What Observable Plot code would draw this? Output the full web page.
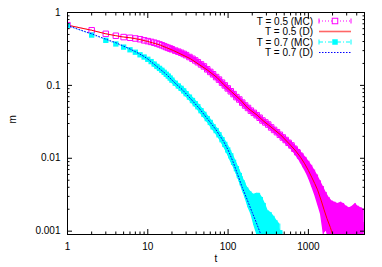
<!DOCTYPE html>
<html><head><meta charset="utf-8">
<script src="https://cdn.jsdelivr.net/npm/d3@7"></script>
<script src="https://cdn.jsdelivr.net/npm/@observablehq/plot@0.6"></script>
<style>html,body{margin:0;padding:0;background:#fff;} svg{display:block;}</style>
</head><body><div id="chart"></div>
<script>
// ---- data ----
const tMC05 = [1,2,3,4,5,6,7,8,9,10,
  11,12,13,14,15,16,17,18,19,20,
  22,24,26,28,30,33,36,39,42,46,
  50,55,60,65,71,77,84,91,99,108,
  117,127,138,150,163,177,192,209,227,247,
  268,291,316,344,374,406,441,480,521,566,
  615,669,727,790,858,933,1014,1102,1197,1301,
  1414,1536,1670,1814,1972,2143,2329,2531,2750,2989,
  3248,3530,3836,4169,4530,4923];
const mMC05 = [0.67,0.57,0.51,0.48,0.46,0.45,0.44,0.43,0.415,0.405,
  0.395,0.385,0.375,0.365,0.355,0.345,0.335,0.327,0.32,0.313,
  0.30,0.29,0.28,0.27,0.26,0.245,0.232,0.22,0.208,0.194,
  0.182,0.166,0.153,0.142,0.130,0.120,0.109,0.100,0.091,0.083,
  0.076,0.069,0.064,0.058,0.053,0.049,0.045,0.042,0.039,0.036,
  0.033,0.031,0.029,0.0265,0.0245,0.0228,0.0210,0.0193,0.0178,0.0163,
  0.0150,0.0135,0.0121,0.0108,0.0094,0.0083,0.0071,0.0060,0.0050,0.0041,
  0.0033,0.0025,0.0022,0.0018,0.0016,0.0015,0.0014,0.0015,0.0014,0.0013,
  0.0012,0.0013,0.0014,0.0013,0.0012,0.0011];
const eMC05 = [0.002,0.002,0.002,0.002,0.002,0.002,0.002,0.002,0.002,0.002,
  0.002,0.002,0.002,0.002,0.002,0.002,0.002,0.002,0.002,0.002,
  0.002,0.002,0.002,0.002,0.002,0.002,0.002,0.002,0.002,0.002,
  0.002,0.002,0.002,0.002,0.002,0.002,0.002,0.002,0.002,0.002,
  0.0015,0.0015,0.0015,0.0015,0.0015,0.0015,0.0015,0.0015,0.0015,0.0015,
  0.0015,0.0015,0.0018,0.0018,0.0018,0.002,0.002,0.002,0.002,0.002,
  0.002,0.002,0.002,0.002,0.002,0.002,0.002,0.002,0.0019,0.0018,
  0.0016,0.0016,0.0012,0.0011,0.0010,0.0010,0.0010,0.0010,0.0010,0.0009,
  0.0009,0.0009,0.0010,0.0009,0.0009,0.0009];

const tMC07 = [1,2,3,4,5,6,7,8,9,10,
  11,12,13,14,15,16,17,18,19,20,
  22,24,26,28,30,33,36,39,42,46,
  50,55,60,65,71,77,84,91,99,108,
  117,127,138,150,163,177,192,209,227,247,
  268,291,316,344,374,406,441];
const mMC07 = [0.66,0.49,0.415,0.37,0.335,0.308,0.285,0.263,0.245,0.228,
  0.212,0.196,0.182,0.171,0.161,0.151,0.142,0.134,0.126,0.118,
  0.107,0.098,0.091,0.084,0.077,0.069,0.062,0.056,0.051,0.045,
  0.040,0.035,0.031,0.027,0.024,0.021,0.018,0.0155,0.013,0.0108,
  0.0088,0.0072,0.0058,0.0046,0.0037,0.0030,0.0026,0.0022,0.0021,0.0021,
  0.0019,0.0016,0.0013,0.0012,0.0011,0.0010,0.00095];
const eMC07 = [0.002,0.002,0.002,0.002,0.002,0.002,0.002,0.002,0.002,0.002,
  0.002,0.002,0.002,0.002,0.002,0.002,0.002,0.002,0.002,0.002,
  0.002,0.002,0.002,0.002,0.002,0.002,0.002,0.002,0.002,0.002,
  0.002,0.002,0.002,0.002,0.002,0.002,0.002,0.002,0.002,0.002,
  0.0012,0.0012,0.0011,0.0010,0.0009,0.0009,0.0009,0.0010,0.0012,0.0012,
  0.0010,0.0008,0.0006,0.0006,0.0005,0.0004,0.0003];

const tD05 = [1,2,3,4,5,6,8,10,14,21,34,55,73,88,110,143,175,230,280,320,450,600,700,800,900,1000,1100,1200,1300,1450,1560,1700,1880,2000];
const mD05 = [0.67,0.57,0.51,0.48,0.46,0.45,0.425,0.40,0.36,0.30,0.232,0.163,0.128,0.103,0.082,0.063,0.049,0.039,0.032,0.0285,0.021,0.0151,0.0125,0.0103,0.0084,0.0068,0.0055,0.0045,0.0037,0.0026,0.0020,0.0015,0.00112,0.00090];

const tD07 = [1,2,3,4,5,6,7,8,9,10,13,17,21,27,34,44,55,70,88,100,115,130,150,173,200,219,253];
const mD07 = [0.66,0.51,0.43,0.385,0.345,0.316,0.29,0.268,0.249,0.23,0.181,0.142,0.112,0.087,0.066,0.048,0.035,0.025,0.017,0.013,0.009,0.0062,0.0040,0.0027,0.0018,0.00141,0.00093];

const xMajor = [1,10,100,1000];
const xTickLabels = ["1","10","100","1000"];
const xMinor = [2,3,4,5,6,7,8,9,20,30,40,50,60,70,80,90,200,300,400,500,600,700,800,900,2000,3000,4000];
const yMajor = [0.001,0.01,0.1,1];
const yTickLabels = ["0.001","0.01","0.1","1"];
const yMinor = [0.002,0.003,0.004,0.005,0.006,0.007,0.008,0.009,0.02,0.03,0.04,0.05,0.06,0.07,0.08,0.09,0.2,0.3,0.4,0.5,0.6,0.7,0.8,0.9];
const xDomain = [1, 5000];
const yDomain = [0.0009, 1];
const legendLabels = ["T = 0.5 (MC)", "T = 0.5 (D)", "T = 0.7 (MC)", "T = 0.7 (D)"];

// ---- tables ----
const mc05 = tMC05.map((t,i) => ({t, m: mMC05[i], e: eMC05[i]}));
const mc07 = tMC07.map((t,i) => ({t, m: mMC07[i], e: eMC07[i]}));
const d05 = tD05.map((t,i) => ({t, m: mD05[i]}));
const d07 = tD07.map((t,i) => ({t, m: mD07[i]}));

const MAG = "#ff00ff", RED = "#ff0000", CYAN = "#00ffff", BLUE = "#0000ff";
const font = "'Liberation Sans', Arial, Helvetica, sans-serif";
const lo = d => Math.max(d.m - d.e, 1e-5);
const hi = d => d.m + d.e;
// dense region where the overlapping markers merge into a solid band
const dense05 = mc05.filter(d => d.t >= 20);
const dense07 = mc07.filter(d => d.t >= 12);

const plot = Plot.plot({
  width: 382, height: 267,
  marginLeft: 67, marginTop: 12, marginRight: 18, marginBottom: 33,
  style: {fontFamily: font, fontSize: "10px", color: "black", background: "white"},
  x: {type: "log", domain: xDomain},
  y: {type: "log", domain: yDomain},
  marks: [
    // T = 0.5 Monte Carlo: error band, merged markers, open squares
    Plot.areaY(mc05, {x: "t", y1: lo, y2: hi, fill: MAG, clip: true}),
    Plot.ruleX(mc05, {x: "t", y1: lo, y2: hi, stroke: MAG, strokeWidth: 1, clip: true}),
    Plot.line(dense05, {x: "t", y: "m", stroke: MAG, strokeWidth: 5, clip: true}),
    Plot.dot(mc05, {x: "t", y: "m", symbol: "square", r: 3.1, stroke: MAG, fill: "none", strokeWidth: 1, clip: true}),
    Plot.line(d05, {x: "t", y: "m", stroke: RED, strokeWidth: 1, clip: true}),
    // T = 0.7 Monte Carlo
    Plot.areaY(mc07, {x: "t", y1: lo, y2: hi, fill: CYAN, clip: true}),
    Plot.ruleX(mc07, {x: "t", y1: lo, y2: hi, stroke: CYAN, strokeWidth: 1, clip: true}),
    Plot.line(dense07, {x: "t", y: "m", stroke: CYAN, strokeWidth: 5, clip: true}),
    Plot.dot(mc07, {x: "t", y: "m", symbol: "square", r: 3.0, fill: CYAN, stroke: "none", clip: true}),
    Plot.line(d07, {x: "t", y: "m", stroke: BLUE, strokeWidth: 1, strokeDasharray: "1,2", clip: true}),
    Plot.frame({stroke: "black", strokeWidth: 1}),
    // inward ticks, mirrored on all four sides
    Plot.axisX(xMajor, {anchor: "bottom", tickSize: -5, tickFormat: () => "", label: null}),
    Plot.axisX(xMinor, {anchor: "bottom", tickSize: -2.5, tickFormat: () => "", label: null}),
    Plot.axisX(xMajor, {anchor: "top", tickSize: -5, tickFormat: () => "", label: null}),
    Plot.axisX(xMinor, {anchor: "top", tickSize: -2.5, tickFormat: () => "", label: null}),
    Plot.axisY(yMajor, {anchor: "left", tickSize: -5, tickFormat: () => "", label: null}),
    Plot.axisY(yMinor, {anchor: "left", tickSize: -2.5, tickFormat: () => "", label: null}),
    Plot.axisY(yMajor, {anchor: "right", tickSize: -5, tickFormat: () => "", label: null}),
    Plot.axisY(yMinor, {anchor: "right", tickSize: -2.5, tickFormat: () => "", label: null}),
    // tick labels
    Plot.axisX(xMajor, {anchor: "bottom", tickSize: 0, tickPadding: 8, tickFormat: d => xTickLabels[xMajor.indexOf(d)], label: null, fill: "black"}),
    Plot.axisY(yMajor, {anchor: "left", tickSize: 0, tickPadding: 7, tickFormat: d => yTickLabels[yMajor.indexOf(d)], label: null, fill: "black"}),
    // axis titles
    Plot.text(["t"], {frameAnchor: "bottom", dy: 27, fontSize: 10, fill: "black"}),
    Plot.text(["m"], {frameAnchor: "left", dx: -55, rotate: -90, fontSize: 10, fill: "black"})
  ]
});

// ---- legend (inside top-right of the frame) ----
const svg = d3.select(plot);
const lg = svg.append("g").attr("font-family", font).attr("font-size", 10);
const legendStyles = [
  {stroke: MAG, dash: "1,2", width: 1, caps: true, sq: "open"},
  {stroke: "#ff6666", dash: null, width: 1.6, caps: false, sq: null},
  {stroke: CYAN, dash: "4,2,1,2", width: 1, caps: true, sq: "filled"},
  {stroke: BLUE, dash: "1.5,1.5", width: 1, caps: false, sq: null}
];
const tx = 313, x1 = 319, x2 = 351, y0 = 21, dyRow = 10.5;
legendLabels.forEach((lab, i) => {
  const y = y0 + i * dyRow;
  const st = legendStyles[i];
  lg.append("text").attr("x", tx).attr("y", y).attr("dy", "0.35em")
    .attr("text-anchor", "end").attr("fill", "black").text(lab);
  const ln = lg.append("line").attr("x1", x1).attr("x2", x2).attr("y1", y).attr("y2", y)
    .attr("stroke", st.stroke).attr("stroke-width", st.width);
  if (st.dash) ln.attr("stroke-dasharray", st.dash);
  if (st.caps) {
    [x1, x2].forEach(cx => lg.append("line").attr("x1", cx).attr("x2", cx)
      .attr("y1", y - 2.5).attr("y2", y + 2.5).attr("stroke", st.stroke).attr("stroke-width", 1));
  }
  if (st.sq === "open") {
    lg.append("rect").attr("x", (x1 + x2) / 2 - 2.75).attr("y", y - 2.75).attr("width", 5.5).attr("height", 5.5)
      .attr("fill", "white").attr("stroke", st.stroke).attr("stroke-width", 1);
  } else if (st.sq === "filled") {
    lg.append("rect").attr("x", (x1 + x2) / 2 - 2.75).attr("y", y - 2.75).attr("width", 5.5).attr("height", 5.5)
      .attr("fill", st.stroke);
  }
});

document.getElementById("chart").appendChild(plot);
</script>
</body></html>
